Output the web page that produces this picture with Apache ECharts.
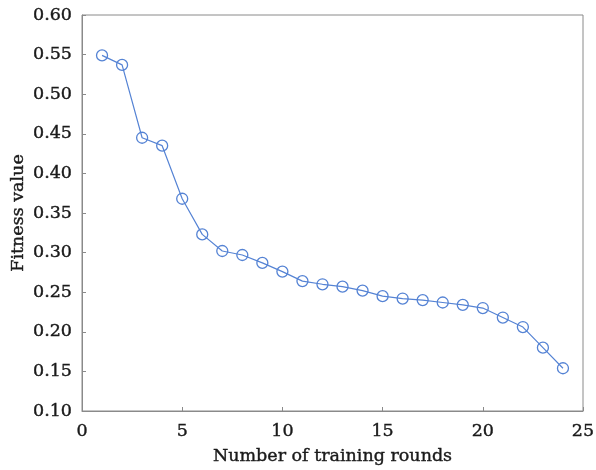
<!DOCTYPE html>
<html>
<head>
<meta charset="utf-8">
<script src="https://cdn.jsdelivr.net/npm/echarts@6/dist/echarts.min.js"></script>
<style>
  html, body { margin: 0; padding: 0; background: #fff; }
  #chart { width: 596px; height: 470px; }
</style>
</head>
<body>
<div id="chart"></div>
<script>
// training rounds and fitness values
const rounds = [1, 2, 3, 4, 5, 6, 7, 8, 9, 10, 11, 12, 13, 14, 15, 16, 17, 18, 19, 20, 21, 22, 23, 24];
const fitness = [0.549, 0.537, 0.445, 0.435, 0.368, 0.323, 0.302, 0.297, 0.287, 0.276,
  0.264, 0.260, 0.257, 0.252, 0.245, 0.242, 0.240, 0.237, 0.234, 0.230,
  0.218, 0.206, 0.180, 0.154];

const fontFamily = "'DejaVu Serif', 'Liberation Serif', serif";
const axisColor = "#8a8a8a";
const textColor = "#1a1a1a";
// thin outline in the text colour to thicken the glyphs a little
const textStyle = {
  fontFamily,
  fontSize: 17.5,
  color: textColor,
  textBorderColor: textColor,
  textBorderWidth: 0.4,
};

const chart = echarts.init(document.getElementById("chart"));
chart.setOption({
  backgroundColor: "#fff",
  animation: false,
  grid: {
    left: 82,
    right: 13,
    top: 15,
    bottom: 59,
    outerBoundsMode: "none",
    show: true,
    borderColor: axisColor,
    borderWidth: 1,
  },
  xAxis: {
    type: "value",
    min: 0,
    max: 25,
    interval: 5,
    name: "Number of training rounds",
    nameLocation: "middle",
    nameGap: 36,
    nameMoveOverlap: false,
    nameTextStyle: textStyle,
    axisLine: { lineStyle: { color: axisColor } },
    axisTick: { inside: true, length: 4, lineStyle: { color: axisColor } },
    axisLabel: Object.assign({ margin: 11 }, textStyle),
    splitLine: { show: false },
  },
  yAxis: {
    type: "value",
    min: 0.1,
    max: 0.6,
    interval: 0.05,
    name: "Fitness value",
    nameLocation: "middle",
    nameGap: 55,
    nameMoveOverlap: false,
    nameTextStyle: textStyle,
    axisLine: { show: true, lineStyle: { color: axisColor } },
    axisTick: { show: true, inside: true, length: 4, lineStyle: { color: axisColor } },
    axisLabel: Object.assign({
      margin: 10,
      formatter: (v) => v.toFixed(2),
    }, textStyle),
    splitLine: { show: false },
  },
  series: [
    {
      type: "line",
      data: rounds.map((r, i) => [r, fitness[i]]),
      symbol: "circle",
      symbolSize: 11,
      lineStyle: { color: "#5583d4", width: 1.2 },
      itemStyle: { color: "rgba(0,0,0,0)", borderColor: "#5583d4", borderWidth: 1.3 },
    },
  ],
});
</script>
</body>
</html>
